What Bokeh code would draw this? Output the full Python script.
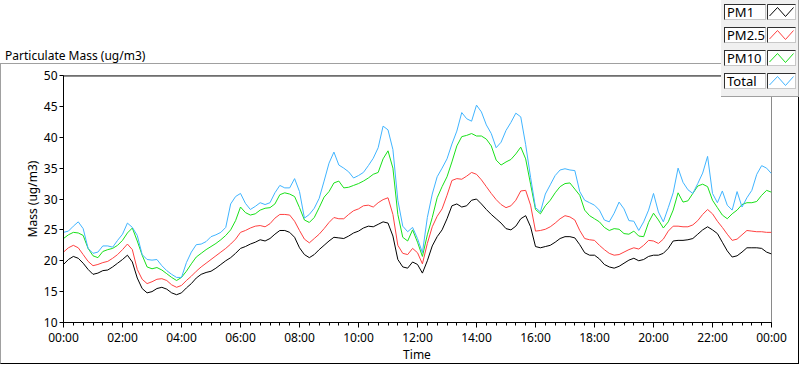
import numpy as np
from bokeh.plotting import figure
from bokeh.models import FixedTicker, Arrow, ColumnDataSource, Div
from bokeh.embed import file_html
from bokeh.resources import INLINE

# ---------------- data (10-minute readings, 00:00 .. 24:00) ----------------
minutes = np.arange(0, 24 * 60 + 1, 10)
hours = minutes / 60.0

pm1 = [
    19.4, 20.2, 20.7, 20.4, 19.6, 18.6,
    17.8, 18.0, 18.4, 18.5, 19.0, 19.6,
    20.2, 20.9, 19.8, 17.2, 15.5, 14.8,
    15.0, 15.5, 15.7, 15.4, 14.8, 14.5,
    14.8, 15.6, 16.3, 17.2, 17.8, 18.1,
    18.3, 18.8, 19.4, 20.0, 20.5, 21.2,
    22.0, 22.3, 22.7, 23.0, 23.4, 23.2,
    23.6, 24.3, 24.9, 24.9, 24.6, 23.8,
    22.1, 21.0, 20.5, 21.0, 21.8, 22.5,
    23.2, 23.8, 23.7, 23.6, 24.0, 24.5,
    24.8, 25.3, 25.6, 25.5, 25.9, 26.3,
    26.1, 24.0, 20.2, 19.0, 18.8, 19.8,
    19.4, 18.0, 20.0, 22.4, 23.9, 25.0,
    26.8, 28.9, 29.2, 28.7, 28.9, 29.8,
    30.0, 29.2, 28.3, 27.5, 26.8, 26.1,
    25.2, 25.0, 25.6, 26.8, 27.3, 25.5,
    22.3, 22.1, 22.3, 22.5, 23.0, 23.6,
    23.9, 23.9, 23.7, 22.6, 21.3, 20.9,
    20.9, 20.3, 19.4, 19.0, 18.8, 19.1,
    19.6, 20.1, 20.4, 20.0, 20.2, 20.7,
    20.9, 20.9, 21.2, 22.0, 23.2, 23.3,
    23.3, 23.4, 23.6, 24.3, 25.0, 25.5,
    25.0, 24.4, 23.0, 21.6, 20.6, 20.8,
    21.4, 22.1, 22.1, 22.1, 22.0, 21.4,
    21.1,
]

pm25 = [
    21.4, 22.1, 22.5, 22.1, 21.0, 19.9,
    19.2, 19.4, 19.7, 19.9, 20.4, 21.0,
    21.8, 22.7, 21.8, 18.6, 17.0, 16.3,
    16.6, 17.0, 17.1, 16.8, 16.1, 15.7,
    16.0, 16.8, 17.5, 18.3, 19.0, 19.6,
    20.2, 20.8, 21.4, 22.0, 22.7, 23.5,
    24.6, 24.9, 25.3, 25.6, 25.7, 25.5,
    26.0, 26.9, 27.5, 27.5, 27.4, 26.4,
    24.9, 23.5, 22.9, 23.6, 24.3, 25.2,
    26.2, 27.0, 26.8, 26.8, 27.5, 28.1,
    28.4, 28.9, 29.0, 28.7, 29.4, 29.9,
    30.2, 27.5, 22.5, 21.2, 21.0, 22.0,
    21.3, 19.5, 22.8, 25.5, 27.2, 28.4,
    30.6, 33.0, 33.3, 33.2, 33.7, 34.3,
    34.0, 33.1, 32.0, 30.9, 29.9, 29.1,
    28.6, 28.9, 29.8, 31.3, 31.4, 29.0,
    24.8, 24.9, 25.1, 25.5, 26.1, 26.8,
    27.3, 27.1, 26.6, 24.9, 23.6, 23.4,
    23.3, 22.5, 21.8, 21.2, 20.9, 21.0,
    21.4, 21.8, 22.1, 21.9, 22.5, 23.3,
    23.2, 22.8, 23.5, 24.8, 25.6, 25.6,
    25.5, 25.5, 25.8, 26.5, 27.5, 28.3,
    27.6, 26.4, 25.4, 24.3, 23.3, 23.5,
    24.2, 24.9, 24.8, 24.7, 24.7, 24.6,
    24.6,
]

pm10 = [
    23.6, 24.2, 24.6, 24.5, 24.1, 22.0,
    20.8, 20.5, 21.5, 21.8, 22.0, 22.5,
    23.3, 24.5, 25.3, 23.2, 20.9, 19.0,
    18.7, 18.9, 18.5, 17.9, 17.3, 16.8,
    17.3, 18.3, 19.5, 20.6, 21.2, 21.8,
    22.3, 22.8, 23.4, 24.1, 25.0, 26.5,
    28.7, 27.8, 27.4, 27.6, 28.2, 28.5,
    28.6, 29.2, 30.7, 31.0, 30.8, 30.4,
    28.6, 26.6, 26.2, 27.0, 28.6, 30.3,
    31.2, 32.6, 32.9, 31.8, 31.9, 32.2,
    32.5, 32.9, 33.4, 34.0, 34.3, 36.5,
    37.8, 35.0, 27.5, 23.8, 23.2, 25.0,
    23.0, 20.7, 24.2, 27.0, 30.2, 32.0,
    33.6, 36.0, 38.6, 40.1, 40.3, 40.6,
    40.2, 40.2, 39.7, 38.6, 36.3, 35.5,
    36.0, 36.4, 37.3, 38.4, 36.5, 32.4,
    28.3, 27.6, 28.9, 29.8, 31.0, 32.0,
    32.5, 32.6, 31.6, 30.6, 28.2, 27.3,
    26.8, 26.3, 25.4, 24.9, 25.2, 25.1,
    24.4, 24.3, 24.8, 24.0, 23.9, 26.2,
    27.7, 26.6, 25.3, 26.3, 28.2, 31.0,
    29.5, 29.7, 30.9, 32.1, 32.4, 32.0,
    29.8, 28.6, 27.4, 26.8, 27.6, 28.2,
    29.1, 29.4, 29.4, 29.6, 30.6, 31.4,
    31.1,
]

total = [
    24.6, 24.8, 25.6, 26.3, 25.2, 22.0,
    21.2, 21.4, 22.4, 22.4, 22.2, 23.3,
    24.3, 26.1, 25.4, 24.1, 21.0, 20.2,
    20.1, 20.2, 19.2, 18.4, 17.8, 17.3,
    17.3, 19.7, 21.4, 22.6, 22.7, 23.1,
    23.9, 24.2, 24.6, 25.4, 29.2, 30.4,
    30.9, 29.3, 28.3, 28.8, 29.4, 29.1,
    29.4, 31.0, 32.2, 31.8, 31.8, 33.3,
    31.2, 26.9, 27.5, 28.5, 30.1, 32.9,
    35.8, 37.6, 35.5, 35.0, 34.4, 33.4,
    33.8, 34.3, 35.4, 36.6, 38.3, 41.8,
    41.2, 38.0, 29.8, 25.6, 24.7, 25.4,
    23.6, 21.3, 27.0, 30.8, 33.6, 35.0,
    36.5, 38.9, 41.0, 44.0, 43.0, 42.6,
    45.2, 44.1, 42.0, 40.6, 38.3, 39.2,
    41.1, 42.4, 43.9, 43.3, 38.8, 33.5,
    28.6, 27.9, 30.8, 32.3, 33.8, 34.7,
    34.9, 34.7, 34.6, 31.2, 29.8, 29.4,
    29.0, 28.2, 26.6, 26.3, 27.7, 29.5,
    28.4, 26.5, 26.4, 24.9, 26.3, 28.2,
    30.9, 27.9, 26.3, 28.6, 31.0, 35.0,
    32.7, 31.5, 30.9, 32.5, 34.2, 36.9,
    30.9, 29.4, 31.3, 29.0, 28.2, 31.2,
    28.7, 30.2, 31.4, 34.0, 35.4, 35.0,
    34.1,
]

series_names = ["PM1", "PM2.5", "PM10", "Total"]
series_values = [pm1, pm25, pm10, total]
series_colors = ["#000000", "#ff4040", "#19e019", "#40b4ff"]

x_tick_hours = [0, 2, 4, 6, 8, 10, 12, 14, 16, 18, 20, 22, 24]
x_tick_labels = ["00:00", "02:00", "04:00", "06:00", "08:00", "10:00", "12:00",
                 "14:00", "16:00", "18:00", "20:00", "22:00", "00:00"]
x_minor_hours = [m / 60.0 for m in range(0, 24 * 60 + 1, 20)]
y_ticks = [10, 15, 20, 25, 30, 35, 40, 45, 50]

chart_title = "Particulate Mass (ug/m3)"
x_label = "Time"
y_label = "Mass (ug/m3)"

# ---------------- layout geometry (canvas pixels) ----------------
W, H = 800, 365
FL, FR, FT, FB = 63, 771, 75, 322
FONT = "Noto Sans"


def pin(left, top, z):
    return {"position": "absolute", "left": f"{left}px", "top": f"{top}px", "z-index": str(z)}


p = figure(width=W, height=H, x_range=(0, 24), y_range=(10, 50),
           output_backend="svg", toolbar_location=None,
           min_border_left=FL, min_border_right=W - FR,
           min_border_top=FT, min_border_bottom=H - FB,
           border_fill_color="white", background_fill_color="white",
           outline_line_color="#8a8a8a", margin=0, styles=pin(0, 0, 1))
p.xgrid.visible = False
p.ygrid.visible = False

for name, vals, col in zip(series_names, series_values, series_colors):
    p.line(hours, vals, line_color=col, line_width=1)

xa = p.xaxis[0]
xa.ticker = FixedTicker(ticks=x_tick_hours, minor_ticks=x_minor_hours)
xa.major_label_overrides = {h: lab for h, lab in zip(x_tick_hours, x_tick_labels)}
ya = p.yaxis[0]
ya.ticker = FixedTicker(ticks=y_ticks, minor_ticks=[])
ya.axis_label = y_label

for ax in (xa, ya):
    ax.axis_line_color = "black"
    ax.major_tick_line_color = "black"
    ax.minor_tick_line_color = "black"
    ax.major_tick_in = 0
    ax.minor_tick_in = 0
    ax.major_label_text_font = FONT
    ax.major_label_text_font_size = "12px"
    ax.major_label_text_color = "black"
    ax.axis_label_text_font = FONT
    ax.axis_label_text_font_size = "12px"
    ax.axis_label_text_font_style = "normal"
    ax.axis_label_text_color = "black"

xa.major_tick_out = 5
xa.minor_tick_out = 3
xa.major_label_standoff = 1
ya.major_tick_out = 4
ya.minor_tick_line_color = None
ya.major_label_standoff = 2
ya.axis_label_standoff = 0

# dark top edge of the plot area
top_edge = dict(x0=[0], y0=[FB - FT - 0.5], x1=[FR - FL], y1=[FB - FT - 0.5])
p.add_layout(Arrow(start=None, end=None, x_start="x0", y_start="y0", x_end="x1", y_end="y1",
                   start_units="screen", end_units="screen", line_color="#202020", line_width=1,
                   source=ColumnDataSource(top_edge)))

# ---------------- chrome: outer frame, titles, legend (HTML overlays) ----------------
frame_html = ('<div style="width:799px;height:301px;box-sizing:border-box;'
              'border-top:1px solid #a0a0a0;border-left:1px solid #a0a0a0;'
              'border-right:1px solid #000;border-bottom:1px solid #000;"></div>')
frame_div = Div(text=frame_html, width=799, height=301, margin=0, styles=pin(0, 63, 2))

title_html = (f'<div style="font-family:\'{FONT}\';font-size:12px;line-height:14px;'
              f'color:#000;white-space:nowrap;">{chart_title}</div>')
title_div = Div(text=title_html, width=200, height=14, margin=0, styles=pin(5, 48, 3))

xlabel_html = (f'<div style="width:60px;text-align:center;font-family:\'{FONT}\';font-size:12px;'
               f'line-height:14px;color:#000;white-space:nowrap;">{x_label}</div>')
xlabel_div = Div(text=xlabel_html, width=60, height=14, margin=0,
                 styles=pin((FL + FR) // 2 - 30, 347, 3))

rows = []
for i, (name, col) in enumerate(zip(series_names, series_colors)):
    top = 4 + i * 23
    rows.append(
        f'<div style="position:absolute;left:3px;top:{top}px;width:42px;height:16px;'
        f'box-sizing:border-box;background:#fff;border-top:1px solid #303030;'
        f'border-left:1px solid #303030;border-right:1px solid #c8c8c8;'
        f'border-bottom:1px solid #c8c8c8;font-family:\'{FONT}\';font-size:13px;'
        f'line-height:14px;padding-left:2px;color:#000;white-space:nowrap;">{name}</div>'
        f'<svg style="position:absolute;left:46px;top:{top}px;" width="29" height="16">'
        f'<rect x="0.5" y="0.5" width="28" height="15" fill="#fff" stroke="#c8c8c8"/>'
        f'<polyline points="0.5,0.5 0.5,15.5" stroke="#303030" fill="none"/>'
        f'<polyline points="0.5,0.5 28.5,0.5" stroke="#303030" fill="none"/>'
        f'<polyline points="2.5,12 10.5,3.5 18.5,12.5 26.5,3.5" stroke="{col}" '
        f'stroke-width="1" fill="none"/></svg>'
    )
legend_html = ('<div style="position:relative;width:78px;height:97px;box-sizing:border-box;'
               'background:#f0f0f0;border-right:1px solid #a0a0a0;border-bottom:1px solid #a0a0a0;">'
               + "".join(rows) + '</div>')
legend_div = Div(text=legend_html, width=78, height=97, margin=0, styles=pin(721, 0, 4))

open("out.html", "w").write(
    file_html([p, frame_div, title_div, xlabel_div, legend_div], INLINE))
